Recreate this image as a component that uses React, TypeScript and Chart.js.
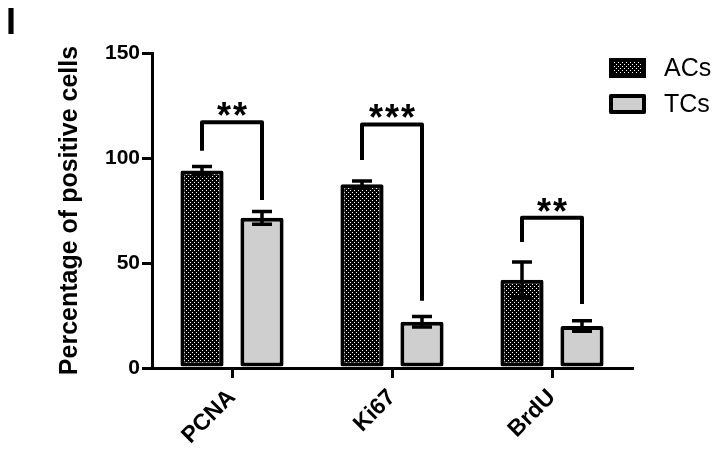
import { useEffect, useRef } from 'react';
import { Chart, registerables } from 'chart.js';

Chart.register(...registerables);

const categories = ['PCNA', 'Ki67', 'BrdU'];
const seriesNames = ['ACs', 'TCs'];
const acsValues = [94, 87.5, 42];
const acsErrors = [2, 1.5, 8.5];
const tcsValues = [71.5, 22, 20];
const tcsErrors = [3, 2.5, 2.5];
const bracketTops = [117, 116, 71.5];
const bracketLeftEnds = [103.5, 99, 60];
const bracketRightEnds = [80, 32, 30.5];
const significance = ['**', '***', '**'];
const yMin = 0;
const yMax = 150;
const yStep = 50;
const yTitle = 'Percentage of positive cells';
const panelLabel = 'I';

const FAMILY = '"Liberation Sans", Arial, Helvetica, sans-serif';
const TCS_FILL = '#cfcfcf';

function makePattern(): CanvasPattern | string {
  const c = document.createElement('canvas');
  c.width = 4;
  c.height = 4;
  const g = c.getContext('2d');
  if (!g) return '#333';
  g.fillStyle = '#000';
  g.fillRect(0, 0, 4, 4);
  g.fillStyle = '#fff';
  g.fillRect(0, 0, 1, 1);
  g.fillRect(2, 2, 1, 1);
  const p = g.createPattern(c, 'repeat');
  return p || '#333';
}

export default function App() {
  const ref = useRef<HTMLCanvasElement | null>(null);

  useEffect(() => {
    const canvas = ref.current;
    if (!canvas) return;
    const pattern = makePattern();
    const errors = [acsErrors, tcsErrors];

    const overlay = {
      id: 'overlay',
      afterDatasetsDraw(chart: any) {
        const ctx = chart.ctx as CanvasRenderingContext2D;
        const y = chart.scales.y;
        ctx.save();
        // error bars
        ctx.strokeStyle = '#000';
        ctx.lineWidth = 3.5;
        ctx.lineCap = 'butt';
        for (let d = 0; d < 2; d++) {
          const meta = chart.getDatasetMeta(d);
          const vals = chart.data.datasets[d].data as number[];
          meta.data.forEach((bar: any, i: number) => {
            const hi = y.getPixelForValue(vals[i] + errors[d][i]);
            const lo = y.getPixelForValue(vals[i] - errors[d][i]);
            const x = bar.x;
            const cw = 10;
            ctx.beginPath();
            ctx.moveTo(x, hi);
            ctx.lineTo(x, lo);
            ctx.moveTo(x - cw, hi);
            ctx.lineTo(x + cw, hi);
            ctx.moveTo(x - cw, lo);
            ctx.lineTo(x + cw, lo);
            ctx.stroke();
          });
        }
        // significance brackets
        const m0 = chart.getDatasetMeta(0);
        const m1 = chart.getDatasetMeta(1);
        ctx.lineWidth = 4;
        ctx.lineJoin = 'round';
        for (let i = 0; i < categories.length; i++) {
          const x0 = m0.data[i].x;
          const x1 = m1.data[i].x;
          const top = y.getPixelForValue(bracketTops[i]);
          ctx.beginPath();
          ctx.moveTo(x0, y.getPixelForValue(bracketLeftEnds[i]));
          ctx.lineTo(x0, top);
          ctx.lineTo(x1, top);
          ctx.lineTo(x1, y.getPixelForValue(bracketRightEnds[i]));
          ctx.stroke();
          // stars
          ctx.font = `bold 36px ${FAMILY}`;
          ctx.fillStyle = '#000';
          ctx.textAlign = 'center';
          ctx.textBaseline = 'alphabetic';
          const mt = ctx.measureText('*');
          const asc = mt.actualBoundingBoxAscent;
          const desc = mt.actualBoundingBoxDescent;
          const cy = top - 13;
          const base = cy + (asc - desc) / 2;
          const n = significance[i].length;
          const pitch = 16;
          const cx = (x0 + x1) / 2;
          for (let k = 0; k < n; k++) {
            ctx.fillText('*', cx + (k - (n - 1) / 2) * pitch, base);
          }
        }
        ctx.restore();
      },
      afterDraw(chart: any) {
        const ctx = chart.ctx as CanvasRenderingContext2D;
        ctx.save();
        // panel label
        ctx.fillStyle = '#000';
        ctx.font = `bold 36px ${FAMILY}`;
        ctx.textAlign = 'left';
        ctx.textBaseline = 'alphabetic';
        ctx.fillText(panelLabel, 6, 34);
        // legend
        const fills = [pattern, TCS_FILL];
        const boxX = 609;
        const boxW = 37;
        const boxH = 20;
        const boxYs = [58, 94];
        ctx.font = `25px ${FAMILY}`;
        ctx.textBaseline = 'middle';
        for (let k = 0; k < 2; k++) {
          const by = boxYs[k];
          ctx.fillStyle = fills[k] as any;
          ctx.fillRect(boxX, by, boxW, boxH);
          ctx.strokeStyle = '#000';
          ctx.lineWidth = 4;
          ctx.lineJoin = 'round';
          ctx.strokeRect(boxX + 2, by + 2, boxW - 4, boxH - 4);
          ctx.fillStyle = '#000';
          ctx.fillText(seriesNames[k], 664, by + boxH / 2 + 1);
        }
        ctx.restore();
      },
    };

    const chart = new Chart(canvas, {
      type: 'bar',
      data: {
        labels: categories,
        datasets: [
          {
            label: seriesNames[0],
            data: acsValues,
            backgroundColor: pattern as any,
            borderColor: '#000',
            borderWidth: 4,
            borderSkipped: false,
            borderRadius: 2,
            barPercentage: 0.72,
            categoryPercentage: 0.75,
          },
          {
            label: seriesNames[1],
            data: tcsValues,
            backgroundColor: TCS_FILL,
            borderColor: '#000',
            borderWidth: 4,
            borderSkipped: false,
            borderRadius: 2,
            barPercentage: 0.72,
            categoryPercentage: 0.75,
          },
        ],
      },
      options: {
        responsive: false,
        animation: false,
        layout: { padding: { left: 55, top: 53, right: 88, bottom: 0 } },
        plugins: { legend: { display: false }, tooltip: { enabled: false } },
        scales: {
          x: {
            grid: {
              display: true,
              drawOnChartArea: false,
              offset: false,
              tickLength: 10,
              color: '#000',
              lineWidth: 3,
            },
            border: { display: true, color: '#000', width: 3 },
            ticks: {
              font: { family: FAMILY, size: 23, weight: 'bold' },
              color: '#000',
              minRotation: 45,
              maxRotation: 45,
              padding: 6,
            },
            afterFit: (s: any) => {
              s.height = 82;
            },
          },
          y: {
            min: yMin,
            max: yMax,
            ticks: {
              stepSize: yStep,
              font: { family: FAMILY, size: 21, weight: 'bold' },
              color: '#000',
              padding: 2,
            },
            grid: {
              display: true,
              drawOnChartArea: false,
              tickLength: 10,
              color: '#000',
              lineWidth: 3,
            },
            border: { display: true, color: '#000', width: 3 },
            title: {
              display: true,
              text: yTitle,
              font: { family: FAMILY, size: 25, weight: 'bold' },
              color: '#000',
              padding: 0,
            },
            afterFit: (s: any) => {
              s.width = 97;
            },
          },
        },
      } as any,
      plugins: [overlay],
    });
    return () => chart.destroy();
  }, []);

  return (
    <div style={{ position: 'absolute', left: 0, top: 0, width: 720, height: 450, background: '#fff' }}>
      <canvas ref={ref} width={720} height={450} style={{ display: 'block' }} />
    </div>
  );
}
